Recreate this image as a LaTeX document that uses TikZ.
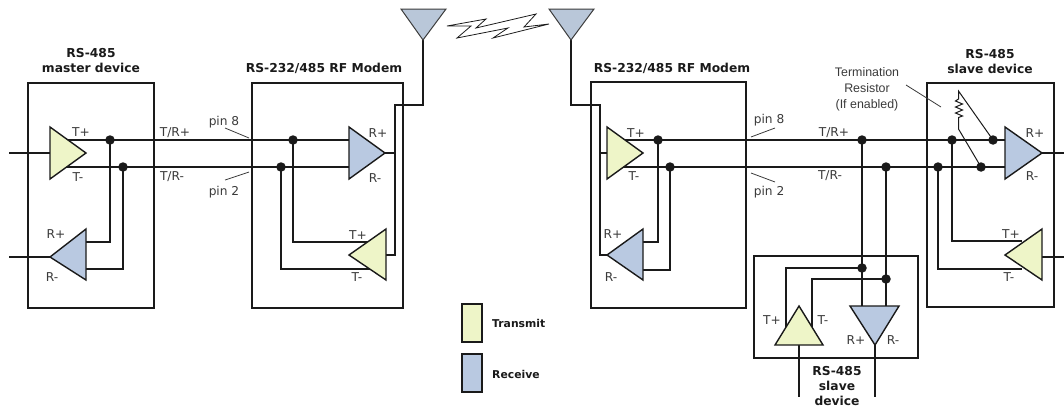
\documentclass[tikz,border=0pt]{standalone}
\usepackage{fontspec}
\setmainfont{DejaVu Sans}
\newfontfamily\arialfont{Liberation Sans}
\tikzset{
  wire/.style={draw=linecol,line width=1.1pt,line join=miter},
  boxframe/.style={draw=linecol,line width=1.7pt,fill=none},
  tx/.style={draw=linecol,line width=1.4pt,fill=txcol,line join=miter},
  rx/.style={draw=linecol,line width=1.4pt,fill=rxcol,line join=miter},
  ant/.style={draw=linecol!85,line width=1pt,fill=antcol,line join=miter},
  junction/.style={circle,fill=linecol,inner sep=0pt,minimum size=9.5pt},
  lab/.style={font=\fontsize{12.2}{12}\selectfont,text=labcol,inner sep=0pt},
  title/.style={font=\fontsize{12.3}{15}\selectfont\bfseries,text=linecol,inner sep=0pt,align=center},
  legendtext/.style={font=\fontsize{10.8}{11}\selectfont\bfseries,text=linecol,inner sep=0pt,anchor=west},
  note/.style={font=\fontsize{12.4}{16.2}\selectfont\arialfont,text=labcol,inner sep=0pt,align=center},
  pointer/.style={draw=labcol,line width=0.8pt},
}
\definecolor{linecol}{HTML}{1A1A1A}
\definecolor{labcol}{HTML}{3A3A3A}
\definecolor{txcol}{HTML}{EEF5C8}
\definecolor{rxcol}{HTML}{B9C9E1}
\definecolor{antcol}{HTML}{B9C7D9}
\begin{document}
\begin{tikzpicture}[x=1pt,y=-1pt]
\useasboundingbox (0,0) rectangle (1064,407);
% ---------- named points
\coordinate (inA) at (9,153);
\coordinate (inB) at (9,257);
\coordinate (mT) at (50,153);
\coordinate (mTp) at (50,140);
\coordinate (mTm) at (50,167);
\coordinate (mRb) at (86,242);
\coordinate (mRc) at (86,269);
\coordinate (mRtip) at (50,257);
\coordinate (aR) at (349,140);
\coordinate (aRm) at (349,167);
\coordinate (aRtip) at (385,153);
\coordinate (aTp) at (370,242);
\coordinate (aTm) at (370,269);
\coordinate (aTback) at (386,255);
\coordinate (aTap) at (395,105);
\coordinate (ant1) at (423,40);
\coordinate (ant2) at (571,40);
\coordinate (bC) at (600,105);
\coordinate (bT) at (607,153);
\coordinate (bTp) at (607,140);
\coordinate (bTm) at (607,167);
\coordinate (bRtip) at (607,255);
\coordinate (bRp) at (643,242);
\coordinate (bRm) at (643,270);
\coordinate (sRp) at (1005,140);
\coordinate (sRm) at (1005,167);
\coordinate (sRtip) at (1042,153);
\coordinate (sOutA) at (1064,153);
\coordinate (sTp) at (1022,241);
\coordinate (sTm) at (1022,269);
\coordinate (sTback) at (1042,257);
\coordinate (sOutB) at (1064,257);
\coordinate (cA) at (862,306);
\coordinate (cB) at (886,306);
\coordinate (cT) at (786,330);
\coordinate (cTm) at (812,330);
\coordinate (cTbase) at (799,345);
\coordinate (cRtip) at (875,345);
\coordinate (cOutA) at (799,397);
\coordinate (cOutB) at (875,397);
\coordinate (rTop) at (958.5,91);
\coordinate (rBot) at (958.5,129);
% ---------- junctions
\node[junction] (d1) at (110,140) {};
\node[junction] (d2) at (123,167) {};
\node[junction] (d3) at (293,140) {};
\node[junction] (d4) at (281,167) {};
\node[junction] (d5) at (658,140) {};
\node[junction] (d6) at (670,167) {};
\node[junction] (d7) at (862,140) {};
\node[junction] (d8) at (886,167) {};
\node[junction] (d9) at (952,140) {};
\node[junction] (d10) at (938,167) {};
\node[junction] (d11) at (993,140) {};
\node[junction] (d12) at (981,167) {};
\node[junction] (d13) at (862,268) {};
\node[junction] (d14) at (886,279) {};
% ---------- wires
\draw[wire] (inA) -- (mT);
\draw[wire] (inB) -- (mRtip);
\draw[wire] (mTp) -- (aR);
\draw[wire] (mTm) -- (aRm);
\draw[wire] (d1.center) |- (mRb);
\draw[wire] (d2.center) |- (mRc);
\draw[wire] (d3.center) |- (aTp);
\draw[wire] (d4.center) |- (aTm);
\draw[wire] (aRtip) -| (aTap);
\draw[wire] (aTback) -| (aTap) -- (aTap -| ant1) -- (ant1);
\draw[wire] (ant2) |- (bC) -- (bC |- bRtip) -- (bRtip);
\draw[wire] (bC |- bT) -- (bT);
\draw[wire] (bTp) -- (sRp);
\draw[wire] (bTm) -- (sRm);
\draw[wire] (d5.center) |- (bRp);
\draw[wire] (d6.center) |- (bRm);
\draw[wire] (sRtip) -- (sOutA);
\draw[wire] (sTback) -- (sOutB);
\draw[wire] (d9.center) |- (sTp);
\draw[wire] (d10.center) |- (sTm);
\draw[wire] (d7.center) -- (cA);
\draw[wire] (d8.center) -- (cB);
\draw[wire] (d13.center) -| (cT);
\draw[wire] (d14.center) -| (cTm);
\draw[wire] (cTbase) -- (cOutA);
\draw[wire] (cRtip) -- (cOutB);
% termination resistor
\draw[wire,line width=1pt] (d11.center) -- (rTop) -- ++(0,8) -- ++(-3,2) -- ++(7,3) -- ++(-7,3) -- ++(7,3) -- ++(-7,3) -- ++(7,3) -- ++(-4,1.5) -- (rBot) -- (d12.center);
% ---------- boxes
\draw[boxframe] (28,83) rectangle (154,308);
\draw[boxframe] (252,83) rectangle (403,308);
\draw[boxframe] (591,82) rectangle (746,308);
\draw[boxframe] (927,83) rectangle (1054,307);
\draw[boxframe] (754,256) rectangle (918,358);
% ---------- triangles
\path[tx] (50,127) -- (50,179) -- (86,153) -- cycle;
\path[rx] (50,257) -- (86,229) -- (86,280) -- cycle;
\path[rx] (349,127) -- (349,179) -- (385,153) -- cycle;
\path[tx] (349,255) -- (386,229) -- (386,280) -- cycle;
\path[tx] (607,127) -- (607,179) -- (643,153) -- cycle;
\path[rx] (607,255) -- (643,229) -- (643,280) -- cycle;
\path[rx] (1005,127) -- (1005,179) -- (1042,153) -- cycle;
\path[tx] (1005,255) -- (1042,229) -- (1042,280) -- cycle;
\path[tx] (799,306) -- (775,345) -- (823,345) -- cycle;
\path[rx] (850,306) -- (899,306) -- (875,345) -- cycle;
% antennas
\path[ant] (401,9) -- (446,9) -- (423,40) -- cycle;
\path[ant] (549,9) -- (594,9) -- (571,40) -- cycle;
% lightning
\draw[draw=linecol,line width=0.8pt,line join=miter] (447,26) -- (486,19) -- (476,28) -- (536,14) -- (524,27) -- (549,24) -- (493,38) -- (508,28) -- (457,38) -- (471,26) -- cycle;
% pointers
\draw[pointer] (225,128) -- (249,138);
\draw[pointer] (225,180) -- (249,172);
\draw[pointer] (751,137) -- (775,128);
\draw[pointer] (751,173) -- (775,182);
\draw[pointer] (906,85) -- (941,107);
% ---------- legend
\draw[tx,line width=1.3pt] (462,304) rectangle (482,342);
\draw[rx,line width=1.3pt] (462,354) rectangle (482,392);
\node[legendtext] (legT) at (492,323) {Transmit};
\node[legendtext] (legR) at (492,374) {Receive};
% ---------- titles
\node[title] (t1) at (91,60.5) {RS-485\\master device};
\node[title] (t2) at (324,68) {RS-232/485 RF Modem};
\node[title] (t3) at (672,68) {RS-232/485 RF Modem};
\node[title] (t4) at (990,61.5) {RS-485\\slave device};
\node[title,font=\fontsize{12.3}{14.6}\selectfont\bfseries] (t5) at (837,386) {RS-485\\slave\\device};
\node[note] (n1) at (867,89) {Termination\\Resistor\\(If enabled)};
% ---------- labels
\node[lab] (a1) at (81,132) {T+};
\node[lab] (a2) at (78,177) {T-};
\node[lab] (a3) at (56,234) {R+};
\node[lab] (a4) at (52,277) {R-};
\node[lab] (a5) at (175,133) {T/R+};
\node[lab] (a6) at (172,177) {T/R-};
\node[lab] (a7) at (224,122) {pin 8};
\node[lab] (a8) at (224,192) {pin 2};
\node[lab] (a9) at (378,133) {R+};
\node[lab] (a10) at (375,178) {R-};
\node[lab] (a11) at (358,235) {T+};
\node[lab] (a12) at (357,277) {T-};
\node[lab] (a13) at (636,133) {T+};
\node[lab] (a14) at (634,176) {T-};
\node[lab] (a15) at (613,234) {R+};
\node[lab] (a16) at (611,277) {R-};
\node[lab] (a17) at (769,120) {pin 8};
\node[lab] (a18) at (769,192) {pin 2};
\node[lab] (a19) at (834,133) {T/R+};
\node[lab] (a20) at (830,176) {T/R-};
\node[lab] (a21) at (1035,133) {R+};
\node[lab] (a22) at (1032,176) {R-};
\node[lab] (a23) at (1011,234) {T+};
\node[lab] (a24) at (1009,277) {T-};
\node[lab] (a25) at (772,320) {T+};
\node[lab] (a26) at (823,320) {T-};
\node[lab] (a27) at (856,340) {R+};
\node[lab] (a28) at (893,340) {R-};
\end{tikzpicture}
\end{document}
